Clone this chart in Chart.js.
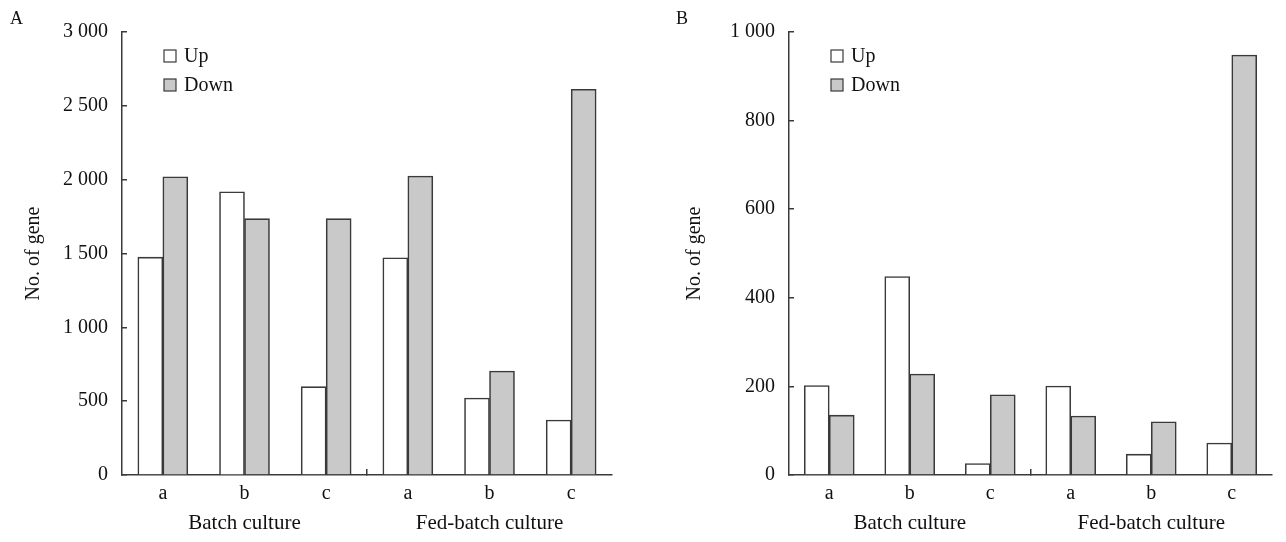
<!DOCTYPE html>
<html>
<head>
<meta charset="utf-8">
<script src="https://cdn.jsdelivr.net/npm/chart.js@4"></script>
<style>
  body { margin: 0; background: #fff; }
  .panel { position: absolute; top: 0; width: 643px; height: 542px; }
  .tag { position: absolute; font: 18px "Liberation Serif", serif; color: #111; }
</style>
</head>
<body>
<div class="panel" style="left:0"><canvas id="chartA" width="643" height="542"></canvas></div>
<div class="panel" style="left:643px"><canvas id="chartB" width="643" height="542"></canvas></div>
<div class="tag" style="left:10px;top:8px">A</div>
<div class="tag" style="left:676px;top:8px">B</div>
<script>
const categories = ['a', 'b', 'c', 'a', 'b', 'c'];
const groups = ['Batch culture', 'Fed-batch culture'];
const seriesNames = ['Up', 'Down'];

// panel A
const upA = [1475, 1918, 598, 1471, 521, 372];
const downA = [2020, 1736, 1736, 2025, 704, 2612];
const ticksA = [0, 500, 1000, 1500, 2000, 2500, 3000];

// panel B
const upB = [202, 448, 26, 201, 47, 72];
const downB = [135, 228, 181, 133, 120, 948];
const ticksB = [0, 200, 400, 600, 800, 1000];

const FONT = '"Liberation Serif", "Times New Roman", serif';
const INK = '#111';
const LINE = '#3a3a3a';

function fmt(v) {
    return String(v).replace(/\B(?=(\d{3})+(?!\d))/g, ' ');
}

// legend drawn inside the plot, top left
const innerLegend = {
    id: 'innerLegend',
    afterDraw(chart) {
        const ctx = chart.ctx;
        const a = chart.chartArea;
        ctx.save();
        ctx.font = '20px ' + FONT;
        ctx.textBaseline = 'middle';
        chart.data.datasets.forEach((ds, i) => {
            const x = a.left + 42;
            const y = a.top + 18 + i * 29;
            ctx.fillStyle = ds.backgroundColor;
            ctx.fillRect(x, y, 12, 12);
            ctx.lineWidth = 1.2;
            ctx.strokeStyle = LINE;
            ctx.strokeRect(x, y, 12, 12);
            ctx.fillStyle = INK;
            ctx.fillText(ds.label, x + 20, y + 7);
        });
        ctx.restore();
    }
};

function drawPanel(id, up, down, yTicks, opt) {
    const data = {
        labels: categories,
        datasets: [{
            label: seriesNames[0],
            data: up,
            backgroundColor: '#ffffff',
            borderColor: LINE,
            borderWidth: 1.6,
        }, {
            label: seriesNames[1],
            data: down,
            backgroundColor: '#c9c9c9',
            borderColor: LINE,
            borderWidth: 1.6,
        }]
    };
    const config = {
        type: 'bar',
        data: data,
        options: {
            responsive: false,
            animation: false,
            events: [],
            layout: { padding: { top: 32, left: 0, right: opt.right, bottom: 10 } },
            datasets: { bar: { barThickness: 25, grouped: true } },
            plugins: { legend: { display: false }, tooltip: { enabled: false } },
            scales: {
                x: {
                    type: 'category',
                    offset: true,
                    weight: 0,
                    grid: {
                        offset: true,
                        drawOnChartArea: false,
                        tickLength: -6,
                        lineWidth: 1.5,
                        color: ctx => ctx.index === 3 ? LINE : 'rgba(0,0,0,0)'
                    },
                    border: { color: LINE, width: 1.5 },
                    ticks: { color: INK, font: { family: FONT, size: 20 }, padding: 13 },
                    afterFit: s => { s.height = 28; }
                },
                x2: {
                    type: 'category',
                    position: 'bottom',
                    labels: groups,
                    offset: true,
                    weight: 1,
                    grid: { display: false },
                    border: { display: false },
                    ticks: { color: INK, font: { family: FONT, size: 21 }, padding: 0 },
                    afterFit: s => { s.height = 29; }
                },
                y: {
                    min: yTicks[0],
                    max: yTicks[yTicks.length - 1],
                    afterBuildTicks: s => { s.ticks = yTicks.map(v => ({ value: v })); },
                    grid: {
                        drawOnChartArea: false,
                        tickLength: -5,
                        lineWidth: 1.5,
                        color: LINE
                    },
                    border: { color: LINE, width: 1.5 },
                    ticks: {
                        color: INK,
                        font: { family: FONT, size: 20 },
                        padding: 19,
                        callback: v => fmt(v)
                    },
                    title: {
                        display: true,
                        text: 'No. of gene',
                        color: INK,
                        font: { family: FONT, size: 20 },
                        padding: { top: opt.titlePad }
                    },
                    afterFit: s => { s.width = opt.left; }
                }
            }
        },
        plugins: [innerLegend]
    };
    return new Chart(document.getElementById(id), config);
}

drawPanel('chartA', upA, downA, ticksA, { left: 122, right: 31, titlePad: 22 });
drawPanel('chartB', upB, downB, ticksB, { left: 146, right: 14, titlePad: 40 });
</script>
</body>
</html>
